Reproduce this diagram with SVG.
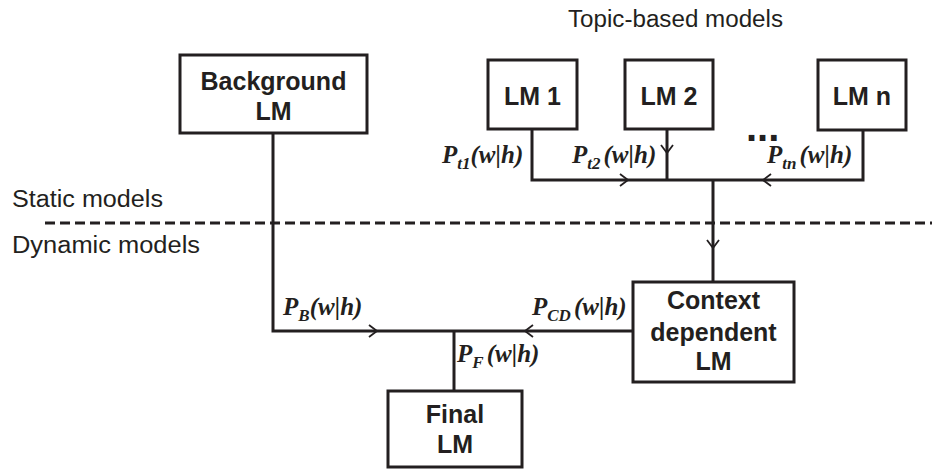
<svg xmlns="http://www.w3.org/2000/svg" xmlns:xlink="http://www.w3.org/1999/xlink" width="932" height="469" viewBox="0 0 932 469">
<style>
.box{fill:#fff;stroke:#231f20;stroke-width:3}
.bt{font-family:"Liberation Sans",Arial,sans-serif;font-weight:bold;font-size:25px;fill:#231f20;text-anchor:middle}
.lt{font-family:"Liberation Sans",Arial,sans-serif;font-size:23px;fill:#231f20}
.ln{fill:none;stroke:#231f20;stroke-width:3}
.ar{fill:none;stroke:#231f20;stroke-width:1.8}
.f{font-family:"Liberation Serif","Times New Roman",serif;font-weight:bold;font-style:italic;font-size:25px;fill:#231f20}
.sub{font-size:17px}
</style>
<defs>
<path id="chev" d="M-8,-6 L0,0 L-8,6"/>
</defs>
<rect width="932" height="469" fill="#fff"/>
<text class="lt" x="568" y="27" textLength="215" lengthAdjust="spacingAndGlyphs">Topic-based models</text>
<text class="lt" x="12" y="207" textLength="151" lengthAdjust="spacingAndGlyphs">Static models</text>
<text class="lt" x="12" y="253" textLength="188" lengthAdjust="spacingAndGlyphs">Dynamic models</text>
<line x1="45" y1="223" x2="932" y2="223" stroke="#231f20" stroke-width="3" stroke-dasharray="10 5"/>
<g id="connectors">
<path class="ln" d="M273,133 V331 H633"/>
<path class="ln" d="M454,331 V391"/>
<path class="ln" d="M532,129 V180 H863 V130"/>
<path class="ln" d="M667,129 V180"/>
<path class="ln" d="M713,180 V282"/>
<g class="ar">
<use xlink:href="#chev" transform="translate(377,331)"/>
<use xlink:href="#chev" transform="translate(525,331) rotate(180)"/>
<use xlink:href="#chev" transform="translate(628,180)"/>
<use xlink:href="#chev" transform="translate(763,180) rotate(180)"/>
<use xlink:href="#chev" transform="translate(667,153) rotate(90)"/>
<use xlink:href="#chev" transform="translate(713,248) rotate(90)"/>
</g>
<text class="f" x="283" y="315">P<tspan class="sub" dy="6">B</tspan><tspan dy="-6">(w|h)</tspan></text>
<text class="f" x="532" y="315">P<tspan class="sub" dy="6">CD</tspan><tspan dx="3" dy="-6">(w|h)</tspan></text>
<text class="f" x="457" y="362">P<tspan class="sub" dy="6">F</tspan><tspan dx="3" dy="-6">(w|h)</tspan></text>
<text class="f" x="442" y="163">P<tspan class="sub" dy="6">t1</tspan><tspan dy="-6">(w|h)</tspan></text>
<text class="f" x="572" y="163">P<tspan class="sub" dy="6">t2</tspan><tspan dx="3" dy="-6">(w|h)</tspan></text>
<text class="f" x="767" y="163">P<tspan class="sub" dy="6">tn</tspan><tspan dx="3" dy="-6">(w|h)</tspan></text>
<text x="746" y="141" font-family="Liberation Sans,Arial,sans-serif" font-weight="bold" font-size="40" fill="#231f20">...</text>
</g>
<g id="background">
<rect class="box" x="180" y="55" width="187" height="78"/>
<text class="bt" x="273.5" y="90">Background</text>
<text class="bt" x="273.5" y="120">LM</text>
</g>
<g id="lm1">
<rect class="box" x="488" y="60" width="89" height="69"/>
<text class="bt" x="532.5" y="105">LM 1</text>
</g>
<g id="lm2">
<rect class="box" x="625" y="60" width="88" height="69"/>
<text class="bt" x="669" y="105">LM 2</text>
</g>
<g id="lmn">
<rect class="box" x="818" y="60" width="88" height="70"/>
<text class="bt" x="862" y="105">LM n</text>
</g>
<g id="context">
<rect class="box" x="633" y="282" width="161" height="100"/>
<text class="bt" x="713.5" y="309">Context</text>
<text class="bt" x="713.5" y="341">dependent</text>
<text class="bt" x="713.5" y="370">LM</text>
</g>
<g id="final">
<rect class="box" x="388" y="391" width="134" height="76"/>
<text class="bt" x="455" y="423">Final</text>
<text class="bt" x="455" y="453">LM</text>
</g>
</svg>
